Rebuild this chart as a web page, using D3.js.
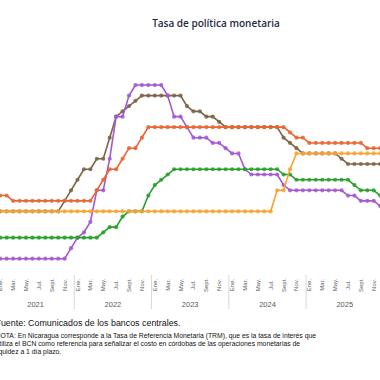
<!DOCTYPE html>
<html>
<head>
<meta charset="utf-8">
<script src="https://cdn.jsdelivr.net/npm/d3@7"></script>
<style>
  body { margin: 0; background: #fff; }
  svg { display: block; }
</style>
</head>
<body>
<svg id="chart" width="380" height="380"></svg>
<script>
// meses y años del eje
const monthNames = ["Ene.", "Feb.", "Mar.", "Abr.", "May.", "Jun.", "Jul.", "Ago.", "Sept.", "Oct.", "Nov.", "Dic."];
const years = [2021, 2022, 2023, 2024, 2025];

// tasas mensuales, ene 2021 - dic 2025 (%)
const costaRica = [
  0.75, 0.75, 0.75, 0.75, 0.75, 0.75, 0.75, 0.75, 0.75, 0.75, 0.75, 1.25,
  1.75, 2.0, 2.5, 4, 4, 5.5, 7.5, 7.5, 8.5, 9, 9, 9,
  9, 9, 8.5, 7.5, 7.5, 7, 6.5, 6.5, 6.5, 6.25, 6.25, 6,
  5.75, 5.75, 5, 4.75, 4.75, 4.75, 4.75, 4.75, 4.25, 4, 4, 4,
  4, 4, 4, 4, 4, 4, 3.75, 3.75, 3.5, 3.5, 3.5, 3.25
];
const dominicana = [
  3, 3, 3, 3, 3, 3, 3, 3, 3, 3, 3.5, 4,
  4.5, 5, 5, 5.5, 5.5, 6.5, 7.5, 7.75, 8, 8.25, 8.5, 8.5,
  8.5, 8.5, 8.5, 8.5, 8.5, 8, 7.75, 7.75, 7.5, 7.5, 7.25, 7,
  7, 7, 7, 7, 7, 7, 7, 7, 6.5, 6.25, 6, 5.75,
  5.75, 5.75, 5.75, 5.75, 5.75, 5.5, 5.25, 5.25, 5.25, 5.25, 5.25, 5.25
];
const nicaragua = [
  3.75, 3.75, 3.5, 3.5, 3.5, 3.5, 3.5, 3.5, 3.5, 3.5, 3.5, 3.5,
  3.5, 3.5, 3.5, 4, 4.5, 5, 5, 5.5, 6, 6, 6.5, 7,
  7, 7, 7, 7, 7, 7, 7, 7, 7, 7, 7, 7,
  7, 7, 7, 7, 7, 7, 7, 7, 7, 6.75, 6.5, 6.5,
  6.25, 6.25, 6.25, 6.25, 6.25, 6.25, 6.25, 6.25, 6.25, 6, 6, 6
];
const guatemala = [
  1.75, 1.75, 1.75, 1.75, 1.75, 1.75, 1.75, 1.75, 1.75, 1.75, 1.75, 1.75,
  1.75, 1.75, 1.75, 1.75, 2, 2.25, 2.25, 2.75, 3, 3, 3, 3.75,
  4.25, 4.5, 4.75, 5, 5, 5, 5, 5, 5, 5, 5, 5,
  5, 5, 5, 5, 5, 5, 5, 5, 4.75, 4.75, 4.5, 4.5,
  4.5, 4.5, 4.5, 4.5, 4.5, 4.5, 4.5, 4.25, 4, 4, 4, 3.75
];
const honduras = [
  3, 3, 3, 3, 3, 3, 3, 3, 3, 3, 3, 3,
  3, 3, 3, 3, 3, 3, 3, 3, 3, 3, 3, 3,
  3, 3, 3, 3, 3, 3, 3, 3, 3, 3, 3, 3,
  3, 3, 3, 3, 3, 3, 3, 4, 4, 5, 5.75, 5.75,
  5.75, 5.75, 5.75, 5.75, 5.75, 5.75, 5.75, 5.75, 5.75, 5.75, 5.75, 5.75
];

const series = [
  { name: "República Dominicana", color: "#7d6447", values: dominicana },
  { name: "Costa Rica", color: "#a457d4", values: costaRica },
  { name: "Guatemala", color: "#27a02a", values: guatemala },
  { name: "Nicaragua", color: "#ea6532", values: nicaragua },
  { name: "Honduras", color: "#f9a232", values: honduras }
];

const svg = d3.select("#chart");
const months = d3.range(years.length * 12);

const x = d3.scaleBand()
  .domain(months)
  .range([-3, 383.4]);

const y = d3.scaleLinear()
  .domain([0, 10])
  .range([274.5, 64]);

const cx = i => x(i) + x.bandwidth() / 2;

// título
svg.append("text")
  .attr("x", 216)
  .attr("y", 27)
  .attr("text-anchor", "middle")
  .style("font-family", "'Open Sans', sans-serif")
  .style("font-size", "10px")
  .style("font-weight", 600)
  .style("fill", "#1f2a44")
  .text("Tasa de política monetaria");

// separadores de años
svg.selectAll(".sep")
  .data(years.slice(1))
  .enter()
  .append("line")
  .attr("class", "sep")
  .attr("x1", (d, i) => x((i + 1) * 12))
  .attr("x2", (d, i) => x((i + 1) * 12))
  .attr("y1", 275)
  .attr("y2", 309)
  .style("stroke", "#d9d9d9")
  .style("stroke-width", 1);

// etiquetas de meses
svg.selectAll(".mes")
  .data(months.filter(i => i % 2 === 0))
  .enter()
  .append("text")
  .attr("class", "mes")
  .attr("transform", i => `translate(${cx(i) + 2},285) rotate(-90)`)
  .attr("text-anchor", "middle")
  .style("font-family", "'Liberation Sans', Arial, sans-serif")
  .style("font-size", "6px")
  .style("fill", "#595959")
  .text(i => monthNames[i % 12]);

// etiquetas de años
svg.selectAll(".anio")
  .data(years)
  .enter()
  .append("text")
  .attr("class", "anio")
  .attr("x", (d, i) => x(i * 12) + x.bandwidth() * 6)
  .attr("y", 307)
  .attr("text-anchor", "middle")
  .style("font-family", "'Liberation Sans', Arial, sans-serif")
  .style("font-size", "7.5px")
  .style("fill", "#595959")
  .text(d => d);

// líneas y marcadores
const line = d3.line()
  .x((d, i) => cx(i))
  .y(d => y(d));

const g = svg.selectAll(".serie")
  .data(series)
  .enter()
  .append("g")
  .attr("class", "serie");

g.append("path")
  .attr("d", d => line(d.values))
  .style("fill", "none")
  .style("stroke", d => d.color)
  .style("stroke-width", 1.6);

g.each(function (s) {
  d3.select(this)
    .selectAll("circle")
    .data(s.values)
    .enter()
    .append("circle")
    .attr("cx", (d, i) => cx(i))
    .attr("cy", d => y(d))
    .attr("r", 2.1)
    .style("fill", s.color)
    .style("fill-opacity", 0.85);
});

// fuente y nota
const notes = [
  { text: "Fuente: Comunicados de los bancos centrales.", y: 326, size: 8.9 },
  { text: "NOTA: En Nicaragua corresponde a la Tasa de Referencia Monetaria (TRM), que es la tasa de interés que", y: 337.5, size: 6.8 },
  { text: "utiliza el BCN como referencia para señalizar el costo en córdobas de las operaciones monetarias de", y: 346, size: 6.8 },
  { text: "liquidez a 1 día plazo.", y: 354, size: 6.8 }
];

svg.selectAll(".nota")
  .data(notes)
  .enter()
  .append("text")
  .attr("class", "nota")
  .attr("x", -4.5)
  .attr("y", d => d.y)
  .style("font-family", "'Liberation Sans', Arial, sans-serif")
  .style("font-size", d => d.size + "px")
  .style("fill", "#111")
  .text(d => d.text);
</script>
</body>
</html>
